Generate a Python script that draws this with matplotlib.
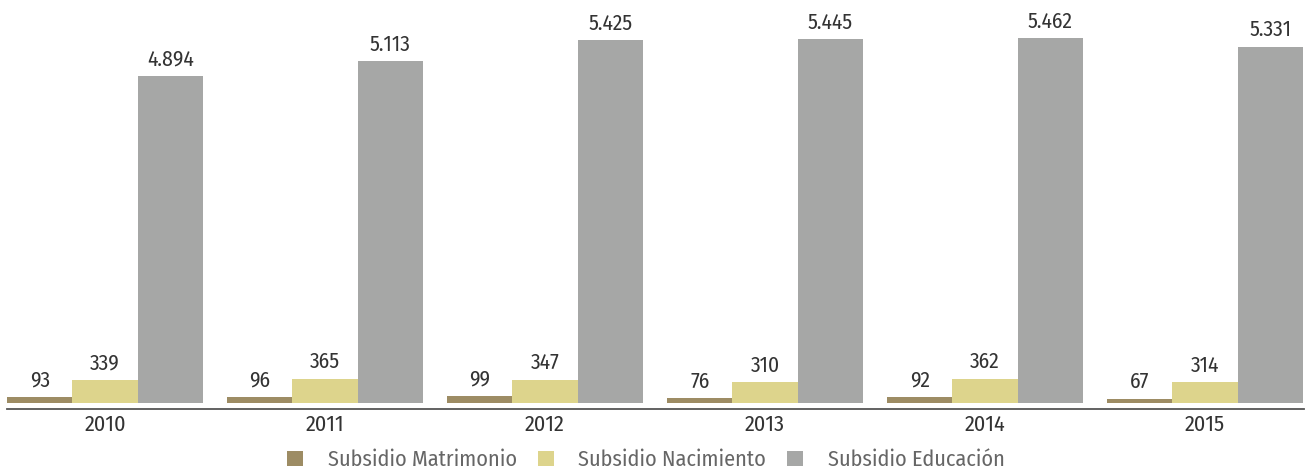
import matplotlib
matplotlib.use("Agg")
import matplotlib.pyplot as plt
from matplotlib.patches import Patch
import numpy as np

years = ["2010", "2011", "2012", "2013", "2014", "2015"]
matrimonio = [93, 96, 99, 76, 92, 67]
nacimiento = [339, 365, 347, 310, 362, 314]
educacion = [4894, 5113, 5425, 5445, 5462, 5331]
series_names = ["Subsidio Matrimonio", "Subsidio Nacimiento", "Subsidio Educación"]
colors = ["#9D8C64", "#DDD48C", "#A6A7A6"]

plt.rcParams['font.family'] = ['Fira Sans Condensed', 'Liberation Sans', 'DejaVu Sans']

W, H = 1306, 473
fig = plt.figure(figsize=(W / 100, H / 100), dpi=100)
ax = fig.add_axes([7 / W, (H - 409) / H, (1304 - 7) / W, 409 / H])

x = np.arange(len(years))
bw = 65.3 / 220
series = [matrimonio, nacimiento, educacion]
for k, (vals, col) in enumerate(zip(series, colors)):
    pos = x + (k - 1) * bw
    ax.bar(pos, vals, width=bw, color=col, linewidth=0)
    for p, v in zip(pos, vals):
        lab = f"{v:,}".replace(",", ".")
        ax.annotate(lab, (p, v), xytext=(0, 7.5), textcoords="offset points",
                    ha="center", va="baseline", fontsize=15.5, color="#333333")

ax.set_xlim(-0.4455, 5.45)
ax.set_ylim(-90, 6031)
for s in ["top", "right", "left"]:
    ax.spines[s].set_visible(False)
ax.spines["bottom"].set_color("#555555")
ax.spines["bottom"].set_linewidth(1.3)
ax.set_yticks([])
ax.set_xticks(x)
ax.set_xticklabels(years, fontsize=16, color="#333333")
ax.tick_params(axis="x", length=0, pad=4)

handles = [Patch(facecolor=c, edgecolor="none") for c in colors]
leg = fig.legend(handles, series_names, loc="center", bbox_to_anchor=(646 / W, 1 - 460 / H),
                 ncol=3, frameon=False, fontsize=16, handlelength=0.72, handleheight=0.72,
                 handletextpad=1.1, columnspacing=0.95, borderpad=0, borderaxespad=0)
for t in leg.get_texts():
    t.set_color("#666666")

fig.savefig("out.png", dpi=100)
